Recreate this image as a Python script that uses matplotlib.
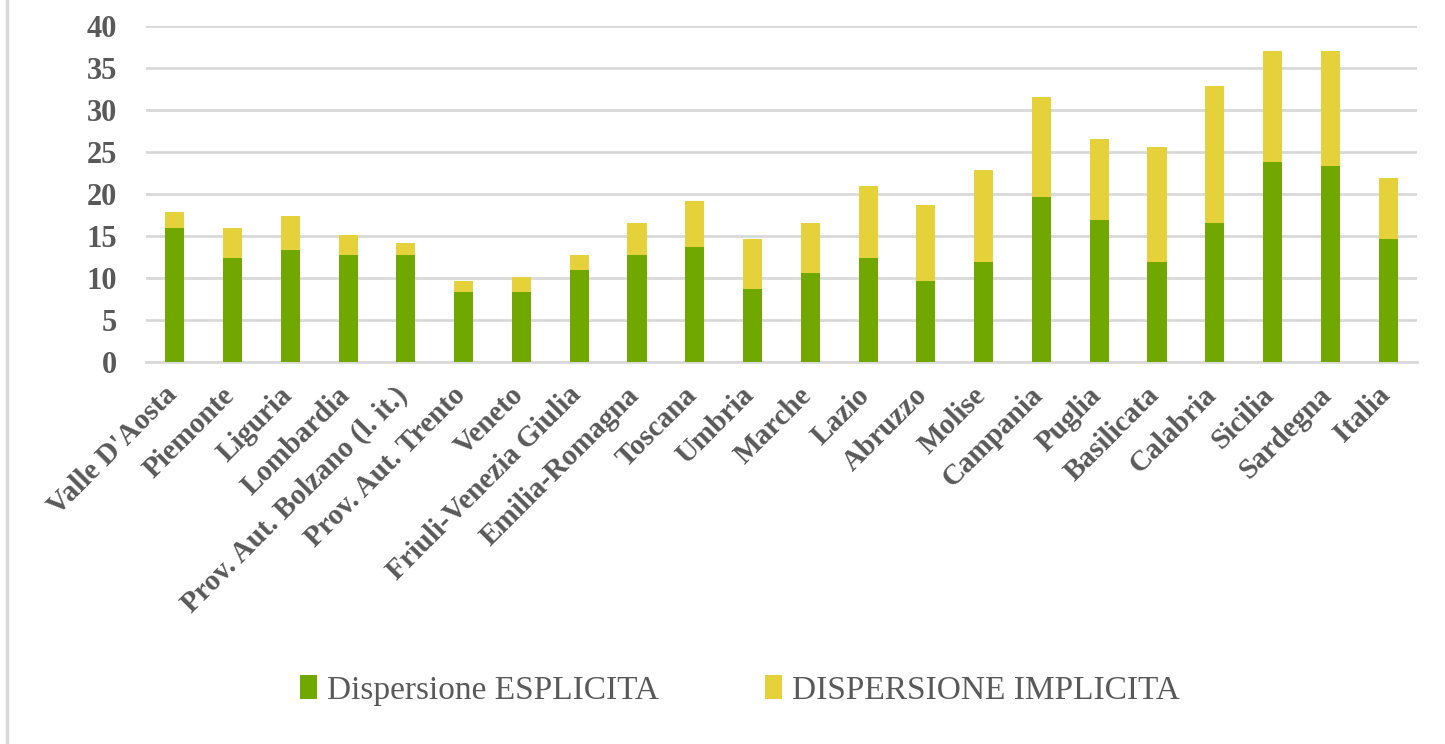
import matplotlib.pyplot as plt
import matplotlib.transforms as mtransforms
import numpy as np
from matplotlib.lines import Line2D

# Regions and dispersion values (%)
regions = ["Valle D'Aosta", "Piemonte", "Liguria", "Lombardia",
           "Prov. Aut. Bolzano (l. it.)", "Prov. Aut. Trento", "Veneto",
           "Friuli-Venezia Giulia", "Emilia-Romagna", "Toscana", "Umbria",
           "Marche", "Lazio", "Abruzzo", "Molise", "Campania", "Puglia",
           "Basilicata", "Calabria", "Sicilia", "Sardegna", "Italia"]
esplicita = [16.0, 12.4, 13.3, 12.8, 12.8, 8.3, 8.3, 11.0, 12.8, 13.7, 8.7,
             10.6, 12.4, 9.6, 11.9, 19.7, 16.9, 11.9, 16.5, 23.8, 23.3, 14.6]
totale = [17.9, 16.0, 17.4, 15.1, 14.2, 9.6, 10.1, 12.8, 16.5, 19.2, 14.6,
          16.5, 21.0, 18.7, 22.9, 31.5, 26.5, 25.6, 32.9, 37.0, 37.0, 21.9]
implicita = [t - e for t, e in zip(totale, esplicita)]
yticks = [0, 5, 10, 15, 20, 25, 30, 35, 40]

GREEN = '#70a800'
YELLOW = '#e5d13a'
GRID = '#d9d9d9'
TEXT = '#595959'

plt.rcParams['font.family'] = ['Liberation Serif', 'DejaVu Serif']

fig = plt.figure(figsize=(14.45, 7.44), dpi=100)
ax = fig.add_axes([0.101, 0.5134, 0.8796, 0.4516])

x = np.arange(len(regions))
ax.bar(x, esplicita, width=0.33, color=GREEN, zorder=3,
       label='Dispersione ESPLICITA')
ax.bar(x, implicita, width=0.33, bottom=esplicita, color=YELLOW, zorder=3,
       label='DISPERSIONE IMPLICITA')

ax.set_xlim(-0.5, len(regions) - 0.5)
ax.set_ylim(0, 40)
ax.set_yticks(yticks)
ax.yaxis.grid(True, color=GRID, linewidth=2, zorder=0)
ax.set_axisbelow(True)

for side in ['top', 'right', 'left']:
    ax.spines[side].set_visible(False)
ax.spines['bottom'].set_color(GRID)
ax.spines['bottom'].set_linewidth(2)

ax.tick_params(axis='both', length=0, colors=TEXT)
ax.tick_params(axis='y', pad=21)
for lab in ax.get_yticklabels():
    lab.set_fontsize(22)
    lab.set_fontweight('bold')
    lab.set_color(TEXT)

ax.set_xticks(x)
ax.set_xticklabels(regions, rotation=45, ha='right', rotation_mode='anchor',
                   fontsize=21, fontweight='bold', color=TEXT)
ax.tick_params(axis='x', pad=14)
# nudge the slanted labels a bit to the left, like the original
shift = mtransforms.ScaledTranslation(-12 / 100, 0, fig.dpi_scale_trans)
for lab in ax.get_xticklabels():
    lab.set_transform(lab.get_transform() + shift)

# legend below the chart
ax.legend(loc='center', bbox_to_anchor=(0.512, 0.072),
          bbox_transform=fig.transFigure, ncol=2, frameon=False,
          fontsize=24, handlelength=0.5, handleheight=0.7,
          handletextpad=0.3, columnspacing=3.2, labelcolor=TEXT)

# outer chart border on the left
fig.add_artist(Line2D([0.005, 0.005], [0, 1], color=GRID, linewidth=2.5,
                      transform=fig.transFigure))

fig.savefig('out.png', dpi=100)
